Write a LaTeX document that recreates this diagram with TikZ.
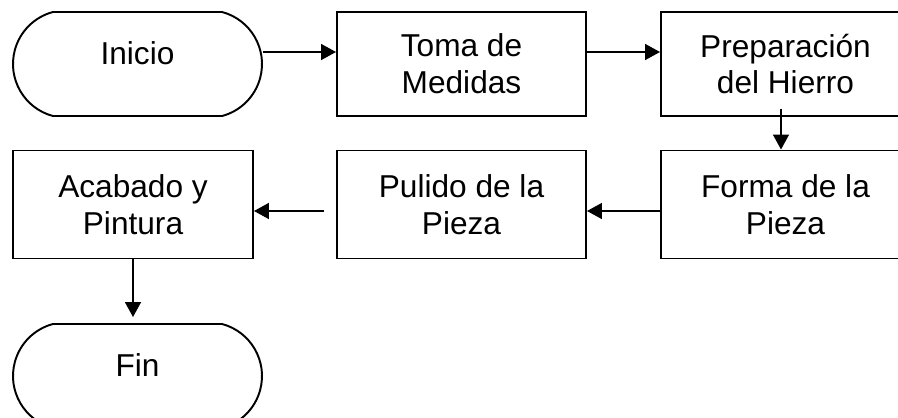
\documentclass[tikz,border=0pt]{standalone}
\usepackage{fontspec}
\setmainfont{Liberation Sans}
\usetikzlibrary{arrows.meta,shapes.misc}

\begin{document}
\begin{tikzpicture}[
  box/.style={draw, line width=1.1pt, minimum width=4.98cm, minimum height=2.08cm,
    align=center, inner sep=0pt, font=\fontsize{18}{21}\selectfont},
  terminal/.style={box, rounded rectangle, rounded rectangle arc length=150,
    text height=0.4cm, text depth=0.4cm},
  flow/.style={-{Triangle[length=8.5pt,width=9pt]}, line width=1.1pt}
]
\clip (0,0) rectangle (17.96,-8.34);
\node [terminal] (inicio) at (2.75,-1.28) {Inicio};
\node [box] (toma) at (9.23,-1.28) {Toma de\\Medidas};
\node [box] (prep) at (15.71,-1.28) {Preparación\\del Hierro};
\node [box, minimum height=2.16cm] (forma) at (15.71,-4.09) {Forma de la\\Pieza};
\node [box, minimum height=2.16cm] (pulido) at (9.23,-4.09) {Pulido de la\\Pieza};
\node [box, minimum height=2.16cm, minimum width=4.8cm] (acabado) at (2.66,-4.09) {Acabado y\\Pintura};
\node [terminal] (fin) at (2.75,-7.52) {Fin};

\draw [flow] ([yshift=0.24cm]inicio.east) -- ([yshift=0.24cm]toma.west);
\draw [flow] ([yshift=0.24cm]toma.east) -- ([yshift=0.24cm]prep.west);
\draw [flow, shorten <=-0.16cm] ([xshift=-0.09cm]prep.south) -- ([xshift=-0.09cm]forma.north);
\draw [flow] ([yshift=-0.13cm]forma.west) -- ([yshift=-0.13cm]pulido.east);
\draw [flow, shorten <=0.24cm] ([yshift=-0.13cm]pulido.west) -- ([yshift=-0.13cm]acabado.east);
\draw [flow, shorten >=0.12cm] (acabado.south) -- (acabado.south |- fin.north);

\end{tikzpicture}
\end{document}
